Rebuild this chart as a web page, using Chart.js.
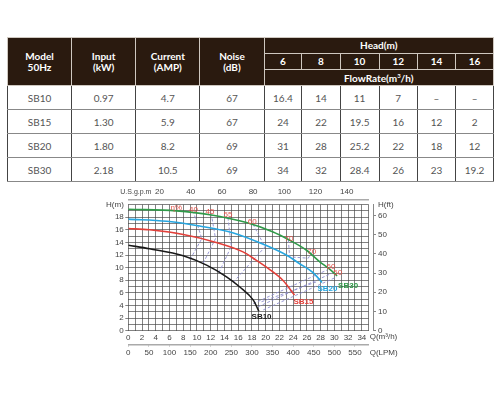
<!DOCTYPE html>
<html>
<head>
<meta charset="utf-8">
<script src="https://cdn.jsdelivr.net/npm/chart.js@4.4.1/dist/chart.umd.min.js"></script>
<style>
  html, body { margin: 0; padding: 0; background: #fff; width: 500px; height: 400px; overflow: hidden; }
  body { position: relative; font-family: Lato, "Open Sans", sans-serif; }
  #specTable { position: absolute; left: 7px; top: 37px; width: 486px; border-collapse: collapse; table-layout: fixed; }
  #specTable th { background: #2a1a0f; color: #fff; font-weight: bold; font-size: 10px; line-height: 11px;
                  border: 1px solid #cfc8c0; padding: 0; text-align: center; }
  #specTable td { color: #555; font-size: 10px; text-align: center; padding: 0; height: 23px;
                  border-left: 1px solid #444; border-right: 1px solid #444; border-bottom: 1.5px solid #888; }
  #specTable tr.h1 th { height: 15px; }
  #specTable tr.h2 th { height: 15px; }
  #specTable tr.h3 th { height: 15px; }
  #pumpChart { position: absolute; left: 0; top: 183px; }
</style>
</head>
<body>
<table id="specTable">
  <colgroup>
    <col style="width:64px"><col style="width:64.3px"><col style="width:64px"><col style="width:64.3px">
    <col style="width:37.7px"><col style="width:38.3px"><col style="width:39px"><col style="width:38.3px"><col style="width:38.3px"><col style="width:37.7px">
  </colgroup>
  <thead>
    <tr class="h1">
      <th rowspan="3">Model<br>50Hz</th>
      <th rowspan="3">Input<br>(kW)</th>
      <th rowspan="3">Current<br>(AMP)</th>
      <th rowspan="3">Noise<br>(dB)</th>
      <th colspan="6">Head(m)</th>
    </tr>
    <tr class="h2" id="headRow"></tr>
    <tr class="h3"><th colspan="6">FlowRate(m<sup style="font-size:6px">3</sup>/h)</th></tr>
  </thead>
  <tbody id="specBody"></tbody>
</table>
<canvas id="pumpChart" width="500" height="217"></canvas>
<script>
// table values
const modelNames = ["SB10", "SB15", "SB20", "SB30"];
const inputKw = ["0.97", "1.30", "1.80", "2.18"];
const currentAmp = ["4.7", "5.9", "8.2", "10.5"];
const noiseDb = ["67", "67", "69", "69"];
const headSteps = ["6", "8", "10", "12", "14", "16"];
const sb10Rates = ["16.4", "14", "11", "7", "–", "–"];
const sb15Rates = ["24", "22", "19.5", "16", "12", "2"];
const sb20Rates = ["31", "28", "25.2", "22", "18", "12"];
const sb30Rates = ["34", "32", "28.4", "26", "23", "19.2"];

// pump curves, Q in m3/h and H in m
const sb10Flow = [0, 3.1, 8, 11.4, 14.3, 16.2, 18.2, 19.0];
const sb10Head = [13.56, 13.0, 11.9, 10.4, 8.55, 6.97, 4.85, 3.1];
const sb15Flow = [0, 3.1, 8, 12.8, 16.7, 18.6, 20.6, 22.5, 24.2];
const sb15Head = [16.2, 16.0, 15.25, 14.0, 12.5, 11.2, 9.7, 8.0, 5.65];
const sb20Flow = [0, 5.6, 10.4, 15.3, 20.1, 23, 24.9, 26.9, 28.2];
const sb20Head = [17.7, 17.36, 16.6, 15.5, 13.5, 12.0, 10.66, 9.2, 7.65];
const sb30Flow = [0, 7, 11.9, 17.2, 21, 23.5, 25.9, 27.8, 29.3, 30.4];
const sb30Head = [19.26, 19.0, 18.4, 17.15, 15.7, 14.35, 12.8, 11.0, 9.76, 8.7];

// efficiency lines (dashed)
const eff40Flow = [9.0, 10.7, 9.5];
const eff40Head = [11.3, 14.6, 18.8];
const eff45Flow = [10.9, 12.7, 12.1];
const eff45Head = [10.7, 14.6, 18.4];
const eff55Flow = [13.2, 15.0, 14.5];
const eff55Head = [9.2, 13.4, 18.0];
const eff60Flow = [15.3, 19.9, 18.1];
const eff60Head = [7.7, 13.3, 17.0];
const eff70Flow = [23.3, 23.5, 26.2, 26.7];
const eff70Head = [14.4, 11.7, 11.5, 12.4];
const endAFlow = [18.2, 28.9];
const endAHead = [4.3, 9.6];
const endBFlow = [18.9, 29.6];
const endBHead = [3.8, 9.1];
const endCFlow = [19.65, 30.3];
const endCHead = [3.3, 8.5];
const endDFlow = [19.4, 27.4];
const endDHead = [4.6, 7.75];

const effLabels = ["η%", "40", "45", "55", "60", "70", "70", "60", "50"];
const effLabelFlow = [7.0, 9.5, 11.9, 14.5, 18.05, 23.4, 26.7, 29.5, 30.5];
const effLabelHead = [19.5, 19.25, 18.9, 18.4, 17.35, 14.6, 12.5, 10.1, 9.2];
const curveLabelFlow = [19.4, 25.5, 29.0, 32.0];
const curveLabelHead = [2.2, 4.6, 6.6, 7.2];

const curveColors = ["#1a1a1a", "#e2403a", "#27a6e0", "#2f9a48"];
const dashColor = "#8d8dcf";
const gridColor = "rgba(70,70,70,0.85)";
const axisFont = { family: "'Liberation Sans', Arial, sans-serif", size: 8 };

// build the table
const headRow = document.getElementById("headRow");
headSteps.forEach((h) => {
  const th = document.createElement("th");
  th.textContent = h;
  headRow.appendChild(th);
});
const allRates = [sb10Rates, sb15Rates, sb20Rates, sb30Rates];
const specBody = document.getElementById("specBody");
modelNames.forEach((name, i) => {
  const tr = document.createElement("tr");
  [name, inputKw[i], currentAmp[i], noiseDb[i]].concat(allRates[i]).forEach((txt) => {
    const td = document.createElement("td");
    td.textContent = txt;
    tr.appendChild(td);
  });
  specBody.appendChild(tr);
});

const toXY = (xs, ys) => xs.map((x, i) => ({ x: x, y: ys[i] }));

function curveSet(label, xs, ys, color) {
  return {
    label: label, data: toXY(xs, ys), showLine: true, borderColor: color, borderWidth: 1.6,
    pointRadius: 0, cubicInterpolationMode: "monotone", fill: false, xAxisID: "x", yAxisID: "y",
  };
}
function dashSet(xs, ys) {
  return {
    data: toXY(xs, ys), showLine: true, borderColor: dashColor, borderWidth: 0.9, borderDash: [3, 2],
    pointRadius: 0, tension: 0, fill: false, xAxisID: "x", yAxisID: "y",
  };
}

// labels drawn on top of the plot
const chartText = {
  id: "chartText",
  afterDatasetsDraw(chart) {
    const { ctx, scales, chartArea } = chart;
    const sx = scales.x, sy = scales.y;
    ctx.save();
    ctx.textAlign = "center";
    ctx.textBaseline = "middle";
    ctx.font = "8px 'Liberation Sans', Arial, sans-serif";
    ctx.fillStyle = "#e4544c";
    effLabels.forEach((t, i) => {
      ctx.fillText(t, sx.getPixelForValue(effLabelFlow[i]), sy.getPixelForValue(effLabelHead[i]));
    });
    ctx.font = "bold 8px 'Liberation Sans', Arial, sans-serif";
    modelNames.forEach((t, i) => {
      ctx.fillStyle = curveColors[i];
      ctx.fillText(t, sx.getPixelForValue(curveLabelFlow[i]), sy.getPixelForValue(curveLabelHead[i]));
    });
    // axis names
    ctx.font = "8px 'Liberation Sans', Arial, sans-serif";
    ctx.fillStyle = "#444";
    ctx.textAlign = "left";
    ctx.fillText("Q(m³/h)", sx.right + 1, sx.top + 6);
    ctx.fillText("Q(LPM)", scales.lpm.right + 1, scales.lpm.top + 8);
    ctx.fillText("H(ft)", scales.ft.left + 5, chartArea.top);
    ctx.font = "7px 'Liberation Sans', Arial, sans-serif";
    ctx.fillText("U.S.g.p.m", chartArea.left - 8, scales.gpm.bottom - 7);
    ctx.restore();
  },
};

new Chart(document.getElementById("pumpChart").getContext("2d"), {
  type: "scatter",
  data: {
    datasets: [
      curveSet("SB10", sb10Flow, sb10Head, curveColors[0]),
      curveSet("SB15", sb15Flow, sb15Head, curveColors[1]),
      curveSet("SB20", sb20Flow, sb20Head, curveColors[2]),
      curveSet("SB30", sb30Flow, sb30Head, curveColors[3]),
      dashSet(eff40Flow, eff40Head),
      dashSet(eff45Flow, eff45Head),
      dashSet(eff55Flow, eff55Head),
      dashSet(eff60Flow, eff60Head),
      dashSet(eff70Flow, eff70Head),
      dashSet(endAFlow, endAHead),
      dashSet(endBFlow, endBHead),
      dashSet(endCFlow, endCHead),
      dashSet(endDFlow, endDHead),
    ],
  },
  options: {
    responsive: false,
    animation: false,
    layout: { padding: { top: 5.3, bottom: 41.5, left: 100, right: 97 } },
    plugins: { legend: { display: false }, tooltip: { enabled: false } },
    scales: {
      x: {
        type: "linear", position: "bottom", weight: 0, min: 0, max: 35,
        ticks: { stepSize: 1, autoSkip: false, maxRotation: 0, padding: 2, font: axisFont, color: "#444",
                 callback: (v) => (v % 2 === 0 && v < 35 ? v : "") },
        grid: { color: gridColor, lineWidth: 0.8, drawTicks: false },
        border: { display: false },
        afterFit: (s) => { s.height = 13.8; },
      },
      lpm: {
        type: "linear", position: "bottom", weight: 1, min: 0, max: 35 * 16.667,
        ticks: { stepSize: 50, includeBounds: false, autoSkip: false, maxRotation: 0, padding: 1.5, font: axisFont, color: "#444" },
        grid: { drawOnChartArea: false, drawTicks: true, tickLength: 2, color: "#aaa" },
        border: { color: "#aaa", width: 1.5 },
        afterFit: (s) => { s.height = 14; },
      },
      gapTop: {
        type: "linear", position: "top", weight: 0,
        ticks: { display: false }, grid: { display: false }, border: { display: false },
        afterFit: (s) => { s.height = 5.3; },
      },
      gpm: {
        type: "linear", position: "top", weight: 1, min: 0, max: 35 * 4.4029,
        ticks: { stepSize: 20, includeBounds: false, autoSkip: false, maxRotation: 0, padding: 3, font: axisFont, color: "#444",
                 callback: (v) => (v === 0 ? "" : v) },
        grid: { drawOnChartArea: false, drawTicks: false },
        border: { color: "#aaa", width: 1.5 },
        afterFit: (s) => { s.height = 11; },
      },
      y: {
        type: "linear", position: "left", weight: 0, min: 0, max: 20,
        ticks: { stepSize: 1, autoSkip: false, padding: 1.5, font: axisFont, color: "#444",
                 callback: (v) => (v === 20 ? "H(m)" : v % 2 === 0 ? v : "") },
        grid: { color: gridColor, lineWidth: 0.8, tickLength: 3,
                tickColor: (c) => (c.tick && c.tick.value % 2 === 0 && c.tick.value < 20 ? "#666" : "rgba(0,0,0,0)") },
        border: { display: false },
        afterFit: (s) => { s.width = 28.3; },
      },
      gapRight: {
        type: "linear", position: "right", weight: 0,
        ticks: { display: false }, grid: { display: false }, border: { display: false },
        afterFit: (s) => { s.width = 4.3; },
      },
      ft: {
        type: "linear", position: "right", weight: 1, min: 0, max: 20 * 3.2808,
        ticks: { stepSize: 10, includeBounds: false, padding: 2, font: axisFont, color: "#444" },
        grid: { drawOnChartArea: false, tickLength: 3, color: "#888" },
        border: { color: "#888", width: 1 },
        afterFit: (s) => { s.width = 30; },
      },
    },
  },
  plugins: [chartText],
});
</script>
</body>
</html>
